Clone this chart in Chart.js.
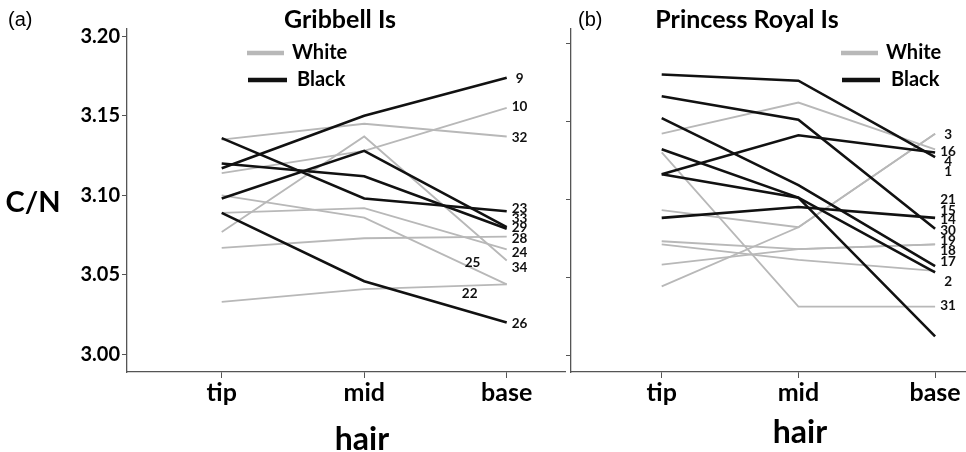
<!DOCTYPE html>
<html>
<head>
<meta charset="utf-8">
<title>C/N along hair</title>
<script src="https://cdn.jsdelivr.net/npm/chart.js@4.4.1/dist/chart.umd.min.js"></script>
<style>
  html, body { margin: 0; padding: 0; background: #fff; }
  #wrap { position: relative; width: 966px; height: 452px; overflow: hidden; }
  .panel { position: absolute; top: 0; height: 452px; }
</style>
</head>
<body>
<div id="wrap">
  <div class="panel" style="left:0;width:566px"><canvas id="gribbell"></canvas></div>
  <div class="panel" style="left:566px;width:400px"><canvas id="royal"></canvas></div>
</div>
<script>
// hair sections and C/N ticks
const stages = ["tip", "mid", "base"];
const cnTicks = [3.00, 3.05, 3.10, 3.15, 3.20];

// (a) Gribbell Is
const gribbellCoat = ["Black", "White", "White", "Black", "Black", "Black", "White", "White", "White", "White", "White", "Black"];
const gribbellTip  = [3.117, 3.114, 3.135, 3.136, 3.098, 3.120, 3.067, 3.089, 3.077, 3.100, 3.033, 3.089];
const gribbellMid  = [3.150, 3.128, 3.145, 3.098, 3.128, 3.112, 3.073, 3.092, 3.137, 3.086, 3.041, 3.046];
const gribbellBase = [3.174, 3.155, 3.137, 3.090, 3.080, 3.079, 3.074, 3.066, 3.059, 3.044, 3.044, 3.020];
const gribbellTags = ["9", "10", "32", "23", "33", "29", "28", "24", "34", "25", "22", "26"];

// (b) Princess Royal Is
const royalCoat = ["Black", "Black", "Black", "Black", "Black", "Black", "Black", "White", "White", "White", "White", "White", "White", "White"];
const royalTip  = [3.180, 3.166, 3.152, 3.132, 3.116, 3.116, 3.088, 3.142, 3.130, 3.044, 3.093, 3.073, 3.071, 3.058];
const royalMid  = [3.176, 3.151, 3.109, 3.101, 3.141, 3.101, 3.095, 3.162, 3.031, 3.082, 3.082, 3.068, 3.061, 3.068];
const royalBase = [3.127, 3.081, 3.057, 3.053, 3.130, 3.012, 3.088, 3.132, 3.031, 3.142, 3.142, 3.071, 3.054, 3.071];
const royalTags = ["3", "16", "4", "1", "21", "15", "14", "30", "19", "18", "17", "2", "31"];

// where the id tags sit (stage units / C/N units)
const gribbellTagX  = [2.09, 2.09, 2.09, 2.09, 2.09, 2.09, 2.09, 2.09, 2.09, 1.76, 1.74, 2.09];
const gribbellTagAt = [3.1735, 3.156, 3.1365, 3.0917, 3.0854, 3.0797, 3.0727, 3.0639, 3.0544, 3.0576, 3.038, 3.019];
const royalTagAt = [3.1412, 3.1305, 3.124, 3.1177, 3.0995, 3.0926, 3.0867, 3.0798, 3.0734, 3.0668, 3.0599, 3.047, 3.0316];

const coatStyle = {
  White: { color: "#b8b8b8", width: 1.8, order: 2 },
  Black: { color: "#111111", width: 2.6, order: 1 }
};

const AXIS = "#555";
const BOLD = "Lato, 'Open Sans', sans-serif";

function makeDatasets(coat, tip, mid, base) {
  return coat.map((c, i) => ({
    label: c,
    data: [tip[i], mid[i], base[i]].map((v, k) => ({ x: k, y: v })),
    borderColor: coatStyle[c].color,
    borderWidth: coatStyle[c].width,
    order: coatStyle[c].order,
    pointRadius: 0,
    tension: 0,
    fill: false
  }));
}

// texts, legend and id tags drawn on top of the plot
const decor = {
  id: "decor",
  afterDraw(chart, args, o) {
    const ctx = chart.ctx;
    const xs = chart.scales.x, ys = chart.scales.y;
    ctx.save();
    ctx.textBaseline = "middle";
    o.texts.forEach(t => {
      ctx.font = t.font;
      ctx.fillStyle = "#000";
      ctx.textAlign = t.align || "center";
      ctx.fillText(t.text, t.x, t.y);
    });
    o.legend.forEach(l => {
      ctx.strokeStyle = coatStyle[l.coat].color;
      ctx.lineWidth = 4.5;
      ctx.beginPath();
      ctx.moveTo(l.x0, l.y);
      ctx.lineTo(l.x1, l.y);
      ctx.stroke();
      ctx.font = "bold 20px " + BOLD;
      ctx.fillStyle = "#000";
      ctx.textAlign = "left";
      ctx.fillText(l.coat, l.tx, l.y);
    });
    ctx.font = "bold 13.5px " + BOLD;
    ctx.fillStyle = "#111";
    ctx.textAlign = "center";
    o.tags.forEach((tag, i) => {
      ctx.fillText(tag, xs.getPixelForValue(o.tagX[i]), ys.getPixelForValue(o.tagAt[i]));
    });
    ctx.restore();
  }
};

function makeChart(id, datasets, sc, decorOpts, showYLabels) {
  return new Chart(document.getElementById(id), {
    type: "line",
    data: { datasets },
    plugins: [decor],
    options: {
      responsive: true,
      maintainAspectRatio: false,
      animation: false,
      layout: { padding: { top: 29, right: sc.padRight, left: 0, bottom: 0 } },
      plugins: { legend: { display: false }, tooltip: { enabled: false }, title: { display: false }, decor: decorOpts },
      scales: {
        x: {
          type: "linear",
          min: sc.xMin,
          max: sc.xMax,
          afterBuildTicks: s => { s.ticks = stages.map((_, i) => ({ value: i })); },
          afterFit: s => { s.height = 80; },
          ticks: {
            autoSkip: false,
            maxRotation: 0,
            padding: 0,
            color: "#000",
            font: { family: BOLD, weight: "bold", size: 25 },
            callback: v => stages[v]
          },
          grid: { drawOnChartArea: false, tickLength: 6, color: AXIS },
          border: { color: AXIS, width: 1.3 }
        },
        y: {
          min: sc.yMin,
          max: sc.yMax,
          afterBuildTicks: s => { s.ticks = cnTicks.map(v => ({ value: v })); },
          afterFit: s => { s.width = sc.yWidth; },
          ticks: {
            padding: 2,
            color: "#000",
            font: { family: BOLD, weight: "bold", size: 20 },
            callback: v => showYLabels ? v.toFixed(2) : ""
          },
          grid: { drawOnChartArea: false, tickLength: 5, color: AXIS },
          border: { color: AXIS, width: 1.3 }
        }
      }
    }
  });
}

makeChart("gribbell",
  makeDatasets(gribbellCoat, gribbellTip, gribbellMid, gribbellBase),
  { xMin: -0.6646, xMax: 2.409, yMin: 2.9889, yMax: 3.2046, yWidth: 127, padRight: 1 },
  {
    texts: [
      { text: "(a)", x: 8, y: 20, align: "left", font: "20px 'Liberation Sans', Arial, sans-serif" },
      { text: "Gribbell Is", x: 340, y: 20, font: "bold 25px " + BOLD },
      { text: "C/N", x: 33, y: 203, font: "bold 29px " + BOLD },
      { text: "hair", x: 362, y: 440, font: "bold 32px " + BOLD }
    ],
    legend: [
      { coat: "White", x0: 247, x1: 284, y: 53, tx: 292 },
      { coat: "Black", x0: 248, x1: 287, y: 80, tx: 297 }
    ],
    tags: gribbellTags,
    tagX: gribbellTagX,
    tagAt: gribbellTagAt
  },
  true);

makeChart("royal",
  makeDatasets(royalCoat, royalTip, royalMid, royalBase),
  { xMin: -0.6635, xMax: 2.226, yMin: 2.9891, yMax: 3.2092, yWidth: 5, padRight: 0 },
  {
    texts: [
      { text: "(b)", x: 12, y: 20, align: "left", font: "20px 'Liberation Sans', Arial, sans-serif" },
      { text: "Princess Royal Is", x: 181, y: 20, font: "bold 25px " + BOLD },
      { text: "hair", x: 234, y: 433, font: "bold 32px " + BOLD }
    ],
    legend: [
      { coat: "White", x0: 275, x1: 312, y: 53, tx: 320 },
      { coat: "Black", x0: 276, x1: 314, y: 80, tx: 325 }
    ],
    tags: royalTags,
    tagX: royalTags.map(() => 2.095),
    tagAt: royalTagAt
  },
  false);
</script>
</body>
</html>
